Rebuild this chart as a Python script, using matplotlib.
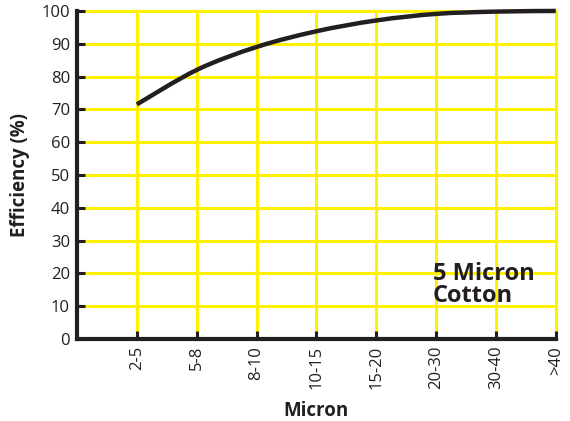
import matplotlib
matplotlib.use("Agg")
import matplotlib.pyplot as plt
from matplotlib.path import Path
from matplotlib.patches import PathPatch

# categories and efficiency values
microns = ["2-5", "5-8", "8-10", "10-15", "15-20", "20-30", "30-40", ">40"]
efficiency = [71.5, 82.0, 89.0, 93.8, 97.1, 99.1, 99.8, 100.0]
y_ticks = [0, 10, 20, 30, 40, 50, 60, 70, 80, 90, 100]

plt.rcParams['font.family'] = ['Open Sans', 'DejaVu Sans']
yellow = "#FFF200"
ink = "#231f20"

fig = plt.figure(figsize=(5.7, 4.21), dpi=100)
ax = fig.add_axes([0.135, 0.195, 0.84, 0.779])

pos = list(range(1, len(microns) + 1))

# grid
for y in y_ticks[1:]:
    ax.axhline(y, color=yellow, lw=2.2, zorder=1, clip_on=False)
for x in pos:
    ax.axvline(x, color=yellow, lw=2.2, zorder=1, clip_on=False)

# smooth curve through the points (Catmull-Rom as cubic bezier)
pts = list(zip(pos, efficiency))
verts = [pts[0]]
codes = [Path.MOVETO]
for i in range(len(pts) - 1):
    p0 = pts[i - 1] if i > 0 else pts[i]
    p1, p2 = pts[i], pts[i + 1]
    p3 = pts[i + 2] if i + 2 < len(pts) else pts[i + 1]
    c1 = (p1[0] + (p2[0] - p0[0]) / 6, p1[1] + (p2[1] - p0[1]) / 6)
    c2 = (p2[0] - (p3[0] - p1[0]) / 6, p2[1] - (p3[1] - p1[1]) / 6)
    verts += [c1, c2, p2]
    codes += [Path.CURVE4] * 3
curve = PathPatch(Path(verts, codes), facecolor="none", edgecolor=ink, lw=3.2,
                  capstyle="butt", zorder=3, clip_on=False)
ax.add_patch(curve)

ax.set_xlim(0, 8)
ax.set_ylim(0, 100)
ax.set_xticks(pos)
ax.set_xticklabels(microns, rotation=90, fontsize=12, color=ink)
ax.set_yticks(y_ticks)
ax.set_yticklabels([str(v) for v in y_ticks], fontsize=12, color=ink)
ax.tick_params(direction="in", length=6, width=2.2, color=ink, pad=5)

for s in ["top", "right"]:
    ax.spines[s].set_visible(False)
for s in ["left", "bottom"]:
    ax.spines[s].set_linewidth(3)
    ax.spines[s].set_color(ink)
    ax.spines[s].set_zorder(4)

ax.set_xlabel("Micron", fontsize=13.5, fontweight="bold", color=ink, labelpad=8)
ax.set_ylabel("Efficiency (%)", fontsize=13.5, fontweight="bold", color=ink, labelpad=8)

ax.text(5.95, 23.5, "5 Micron\nCotton", fontsize=17, fontweight="bold", color=ink,
        va="top", ha="left", linespacing=0.9, zorder=5)

fig.savefig("out.png", dpi=100)
